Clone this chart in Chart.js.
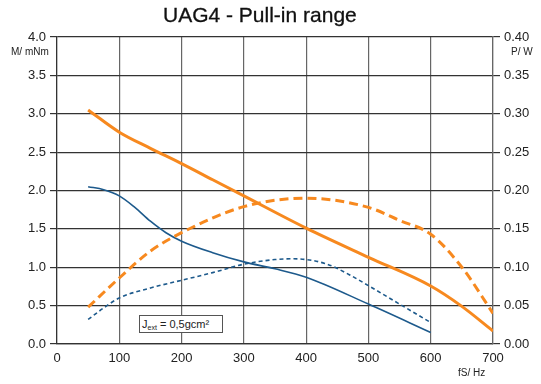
<!DOCTYPE html>
<html>
<head>
<meta charset="utf-8">
<script src="https://cdn.jsdelivr.net/npm/chart.js@4/dist/chart.umd.min.js"></script>
<style>
  html, body { margin: 0; padding: 0; background: #fff; }
  #wrap { position: relative; width: 541px; height: 384px; font-family: "Liberation Sans", Arial, sans-serif; color: #222; }
  #title { position: absolute; left: 163px; top: 3px; font-size: 21px; color: #111; white-space: nowrap;
           -webkit-text-stroke: 0.3px #111; }
  .unit { position: absolute; font-size: 10px; color: #222; }
  #jbox { position: absolute; left: 139px; top: 315px; width: 84px; height: 18px; border: 1px solid #555; background: #fff;
          font-size: 11px; line-height: 17px; padding-left: 2px; box-sizing: border-box; }
  #jbox sub { font-size: 7px; vertical-align: -2px; }
  canvas { position: absolute; left: 0; top: 0; }
</style>
</head>
<body>
<div id="wrap">
  <canvas id="chart" width="541" height="384"></canvas>
  <div id="title">UAG4 - Pull-in range</div>
  <div class="unit" style="left:11px; top:46px;">M/ mNm</div>
  <div class="unit" style="left:511px; top:46px;">P/ W</div>
  <div class="unit" style="left:458px; top:367px;">fS/ Hz</div>
  <div id="jbox">J<sub>ext</sub> = 0,5gcm²</div>
</div>
<script>
// pull-in torque, orange (mNm)
const orangeTorqueFreq = [50, 100, 150, 200, 250, 300, 400, 500, 600, 650, 700];
const orangeTorque = [3.05, 2.76, 2.55, 2.35, 2.14, 1.93, 1.51, 1.13, 0.755, 0.49, 0.17];

// output power, orange (W)
const orangePowerFreq = [50, 100, 150, 200, 300, 400, 500, 550, 600, 650, 700];
const orangePower = [0.048, 0.086, 0.121, 0.145, 0.179, 0.190, 0.178, 0.161, 0.143, 0.100, 0.040];

// pull-in torque, blue (mNm)
const blueTorqueFreq = [50, 75, 100, 125, 150, 175, 200, 250, 300, 350, 400, 500, 600];
const blueTorque = [2.05, 2.01, 1.93, 1.78, 1.60, 1.45, 1.34, 1.19, 1.07, 0.98, 0.87, 0.52, 0.15];

// output power, blue (W)
const bluePowerFreq = [50, 75, 100, 150, 200, 250, 300, 350, 380, 430, 470, 500, 550, 600];
const bluePower = [0.032, 0.047, 0.060, 0.073, 0.083, 0.093, 0.104, 0.110, 0.111, 0.105, 0.090, 0.076, 0.052, 0.028];

const ORANGE = '#f7891f';
const BLUE = '#1d5a8c';

function points(xs, ys) {
    return xs.map((x, i) => ({ x: x, y: ys[i] }));
}

const tickFont = { family: '"Liberation Sans", Arial, sans-serif', size: 13 };

new Chart(document.getElementById('chart').getContext('2d'), {
    type: 'line',
    data: {
        datasets: [
            {
                data: points(orangeTorqueFreq, orangeTorque),
                yAxisID: 'y',
                borderColor: ORANGE,
                borderWidth: 3,
                pointRadius: 0,
                cubicInterpolationMode: 'monotone'
            },
            {
                data: points(orangePowerFreq, orangePower),
                yAxisID: 'y1',
                borderColor: ORANGE,
                borderWidth: 3,
                borderDash: [9, 5],
                pointRadius: 0,
                cubicInterpolationMode: 'monotone'
            },
            {
                data: points(blueTorqueFreq, blueTorque),
                yAxisID: 'y',
                borderColor: BLUE,
                borderWidth: 1.6,
                pointRadius: 0,
                cubicInterpolationMode: 'monotone'
            },
            {
                data: points(bluePowerFreq, bluePower),
                yAxisID: 'y1',
                borderColor: BLUE,
                borderWidth: 1.6,
                borderDash: [4, 3],
                pointRadius: 0,
                cubicInterpolationMode: 'monotone'
            }
        ]
    },
    options: {
        responsive: false,
        animation: false,
        layout: { padding: { top: 37, left: 0, right: 0, bottom: 0 } },
        plugins: {
            legend: { display: false },
            tooltip: { enabled: false },
            title: { display: false }
        },
        scales: {
            x: {
                type: 'linear',
                min: 0,
                max: 700,
                afterFit: s => { s.height = 40; },
                ticks: { stepSize: 100, color: '#222', font: tickFont, padding: 7 },
                grid: { color: '#666', lineWidth: 1.2, drawTicks: false },
                border: { color: '#333', width: 1.2 }
            },
            y: {
                position: 'left',
                min: 0,
                max: 4,
                afterFit: s => { s.width = 57; },
                ticks: { stepSize: 0.5, color: '#222', font: tickFont, padding: 4,
                         callback: v => v.toFixed(1) },
                grid: { color: '#333', lineWidth: 1.2, tickLength: 7 },
                border: { color: '#333', width: 1.2 }
            },
            y1: {
                position: 'right',
                min: 0,
                max: 0.4,
                afterFit: s => { s.width = 48; },
                ticks: { stepSize: 0.05, color: '#222', font: tickFont, padding: 4,
                         callback: v => v.toFixed(2) },
                grid: { drawOnChartArea: false, color: '#333', lineWidth: 1.2, tickLength: 7 },
                border: { color: '#666', width: 1.2 }
            }
        }
    }
});
</script>
</body>
</html>
